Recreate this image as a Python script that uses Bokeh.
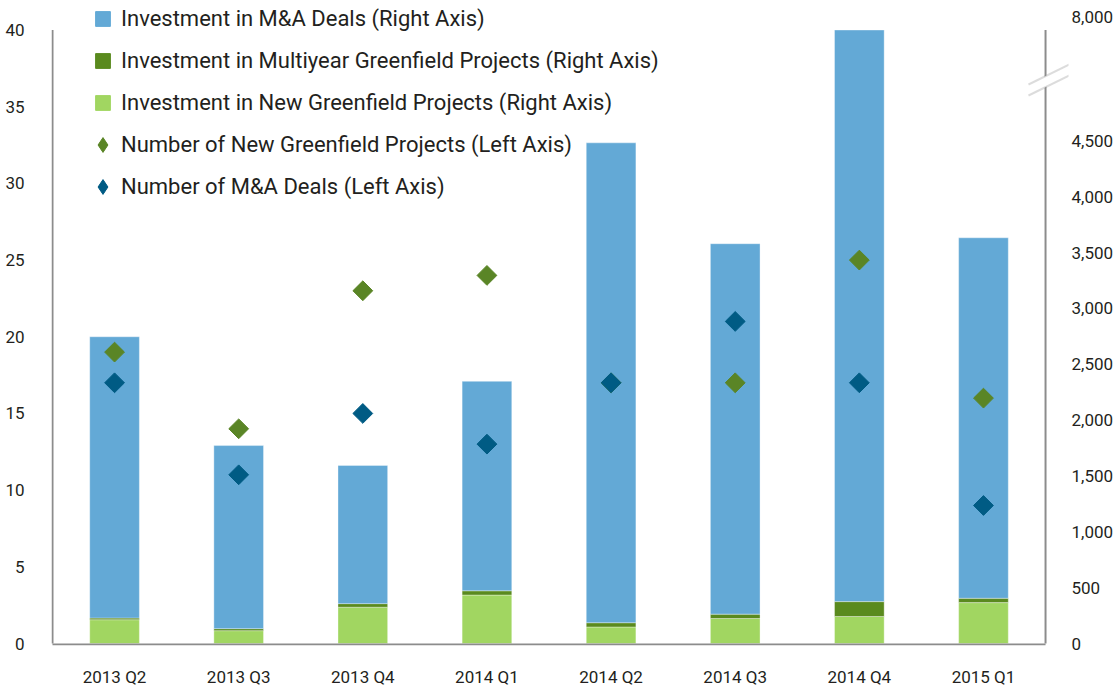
from bokeh.plotting import figure
from bokeh.models import (ColumnDataSource, Range1d, LinearAxis, FixedTicker, Legend, LegendItem,
                          PolyAnnotation, BoxAnnotation)
from bokeh.embed import file_html
from bokeh.resources import INLINE
import numpy as np

quarters = ["2013 Q2", "2013 Q3", "2013 Q4", "2014 Q1", "2014 Q2", "2014 Q3", "2014 Q4", "2015 Q1"]
inv_new_greenfield = [213, 115, 325, 434, 148, 224, 242, 366]
inv_multiyear_greenfield = [15, 18, 32, 38, 38, 39, 133, 39]
inv_ma = [2518, 1639, 1237, 1875, 4296, 3316, 7525, 3227]
num_new_greenfield = [19, 14, 23, 24, 17, 17, 25, 16]
num_ma = [17, 11, 15, 13, 17, 21, 17, 9]

left_ticks = [0, 5, 10, 15, 20, 25, 30, 35, 40]
right_ticks = [0, 500, 1000, 1500, 2000, 2500, 3000, 3500, 4000, 4500]
right_break_label = "8,000"

# broken right axis: 0..4,500 is linear, the axis top (left value 40) stands for 8,000
LEFT_TOP = 40
RIGHT_AT_LEFT_TOP = 5492          # right-axis position of the axis top
LEFT_START, LEFT_END = -0.13, 41.6  # frame reaches a little past the axes
RATIO = RIGHT_AT_LEFT_TOP / LEFT_TOP
RIGHT_BREAK_TICK = 5607           # where the "8,000" label sits

FONT = "Roboto"
C_MA = "#63a9d6"
C_MULTI = "#5a8a1e"
C_NEW = "#a1d661"
C_D_GREEN = "#5a8526"
C_D_BLUE = "#005b84"
AXIS_C = "#8c8c8c"
TXT_C = "#231f20"

n = len(quarters)
xpos = [i + 0.5 for i in range(n)]
base1 = list(inv_new_greenfield)
base2 = [a + b for a, b in zip(inv_new_greenfield, inv_multiyear_greenfield)]
top2 = [min(a + b, RIGHT_AT_LEFT_TOP) for a, b in zip(base2, inv_ma)]

src = ColumnDataSource(dict(
    x=xpos, b0=[0] * n, t0=base1, b1=base1, t1=base2, b2=base2, t2=top2,
    ng=num_new_greenfield, nm=num_ma,
))

p = figure(width=1116, height=689, x_range=Range1d(-0.008, 8.185), y_range=Range1d(LEFT_START, LEFT_END),
           output_backend="svg", toolbar_location=None,
           min_border_left=51, min_border_right=42, min_border_top=5, min_border_bottom=37)
p.outline_line_color = None
p.xgrid.grid_line_color = None
p.ygrid.grid_line_color = None
p.extra_y_ranges = {"right": Range1d(LEFT_START * RATIO, LEFT_END * RATIO)}

bar_kw = dict(width=0.4, line_color="#ffffff", line_alpha=0.35, line_width=1, y_range_name="right")
r_new = p.vbar(x="x", bottom="b0", top="t0", fill_color=C_NEW, source=src, **bar_kw)
r_multi = p.vbar(x="x", bottom="b1", top="t1", fill_color=C_MULTI, source=src, **bar_kw)
r_ma = p.vbar(x="x", bottom="b2", top="t2", fill_color=C_MA, source=src, **bar_kw)

r_ng = p.scatter(x="x", y="ng", source=src, marker="square", angle=np.pi / 4, size=14,
                 fill_color=C_D_GREEN, line_color=C_D_GREEN)
r_nm = p.scatter(x="x", y="nm", source=src, marker="square", angle=np.pi / 4, size=14,
                 fill_color=C_D_BLUE, line_color=C_D_BLUE)

# invisible renderers used only for legend glyphs
def legend_dummy(marker, color):
    return p.scatter(x="x", y="ng", source=src, marker=marker, size=12,
                     fill_color=color, line_color=color, visible=False)

lg_ma = legend_dummy("square", C_MA)
lg_multi = legend_dummy("square", C_MULTI)
lg_new = legend_dummy("square", C_NEW)
lg_ng = legend_dummy("diamond", C_D_GREEN)
lg_nm = legend_dummy("diamond", C_D_BLUE)

def style_axis(ax):
    ax.axis_line_color = None
    ax.major_tick_line_color = None
    ax.minor_tick_line_color = None
    ax.major_label_text_font = FONT
    ax.major_label_text_font_size = "17px"
    ax.major_label_text_color = TXT_C

ax_l = p.yaxis[0]
ax_l.ticker = FixedTicker(ticks=left_ticks)
style_axis(ax_l)
ax_l.major_label_standoff = 21

ax_r = LinearAxis(y_range_name="right", ticker=FixedTicker(ticks=right_ticks + [RIGHT_BREAK_TICK]))
overrides = {t: f"{t:,}" for t in right_ticks}
overrides[RIGHT_BREAK_TICK] = right_break_label
ax_r.major_label_overrides = overrides
style_axis(ax_r)
ax_r.major_label_standoff = -3
p.add_layout(ax_r, "right")

ax_b = p.xaxis[0]
ax_b.ticker = FixedTicker(ticks=xpos)
ax_b.major_label_overrides = {x: q for x, q in zip(xpos, quarters)}
style_axis(ax_b)
ax_b.major_label_standoff = 15

# axis lines (drawn as boxes so that they stop at the axes' ends)
AX_HALF = 0.008
p.add_layout(BoxAnnotation(left=0, right=2, left_units="screen", right_units="screen",
                           bottom=0, top=LEFT_TOP,
                           fill_color=AXIS_C, fill_alpha=1, line_color=None))
p.add_layout(BoxAnnotation(left=0, right=n, bottom=0, top=2, bottom_units="screen", top_units="screen",
                           fill_color=AXIS_C, fill_alpha=1, line_color=None))
p.add_layout(BoxAnnotation(left=n - AX_HALF, right=n + AX_HALF, bottom=0, top=LEFT_TOP,
                           fill_color=AXIS_C, fill_alpha=1, line_color=None))

# axis break marker
p.add_layout(PolyAnnotation(xs=[987, 1013, 1013, 987], ys=[554.9, 567.6, 578.6, 565.9],
                            xs_units="screen", ys_units="screen",
                            fill_color="white", fill_alpha=1, line_color=None))
for y0 in (561, 550):
    p.add_layout(PolyAnnotation(xs=[977, 1022], ys=[y0, y0 + 22],
                                xs_units="screen", ys_units="screen",
                                fill_alpha=0, line_color=AXIS_C, line_width=2))

legend = Legend(items=[
    LegendItem(label="Investment in M&A Deals (Right Axis)", renderers=[lg_ma]),
    LegendItem(label="Investment in Multiyear Greenfield Projects (Right Axis)", renderers=[lg_multi]),
    LegendItem(label="Investment in New Greenfield Projects (Right Axis)", renderers=[lg_new]),
    LegendItem(label="Number of New Greenfield Projects (Left Axis)", renderers=[lg_ng]),
    LegendItem(label="Number of M&A Deals (Left Axis)", renderers=[lg_nm]),
], location=(33, 440))
legend.border_line_color = None
legend.background_fill_alpha = 0
legend.inactive_fill_alpha = 0
legend.padding = 0
legend.margin = 0
legend.spacing = 5
legend.label_height = 37
legend.glyph_height = 37
legend.glyph_width = 37
legend.label_standoff = -4
legend.label_text_font = FONT
legend.label_text_font_size = "22px"
legend.label_text_color = TXT_C
p.add_layout(legend, "center")

open("out.html", "w").write(file_html(p, INLINE))
